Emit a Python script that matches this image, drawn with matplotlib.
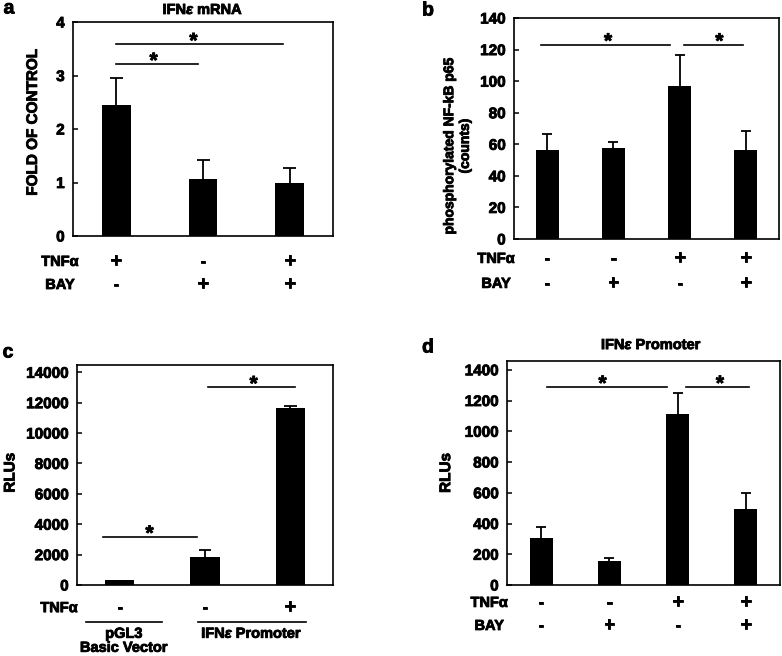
import matplotlib.pyplot as plt
import matplotlib.patheffects as pe
import numpy as np

plt.rcParams['font.family'] = ['Liberation Sans', 'DejaVu Sans']
plt.rcParams['font.weight'] = 'bold'
plt.rcParams['mathtext.fontset'] = 'custom'
plt.rcParams['mathtext.it'] = 'Liberation Sans:italic'
plt.rcParams['mathtext.rm'] = 'Liberation Sans:bold'

# panel a: IFNe mRNA
a_vals = [2.45, 1.07, 1.00]
a_err = [0.50, 0.35, 0.28]
a_tnf = ['+', '-', '+']
a_bay = ['-', '+', '+']

# panel b: phosphorylated NF-kB p65
b_vals = [56.5, 57.9, 97.2, 56.5]
b_err = [9.7, 3.6, 19.4, 12.2]
b_tnf = ['-', '-', '+', '+']
b_bay = ['-', '+', '-', '+']

# panel c: luciferase
c_vals = [300, 1843, 11672]
c_err = [0, 490, 130]
c_tnf = ['-', '-', '+']

# panel d: IFNe promoter
d_vals = [307, 156, 1114, 496]
d_err = [72, 21, 136, 100]
d_tnf = ['-', '-', '+', '+']
d_bay = ['-', '+', '-', '+']

W, H = 782, 656
fig = plt.figure(figsize=(W / 100, H / 100), dpi=100)
thick = [pe.withStroke(linewidth=0.6, foreground='black')]


def add_ax(l, t, r, b):
    return fig.add_axes([l / W, 1 - b / H, (r - l) / W, (b - t) / H])


def bars(ax, vals, err, width, ylim, yticks):
    x = np.arange(len(vals))
    vals = np.array(vals)
    tops = vals + np.array(err)
    ax.bar(x, vals, width=width, color='black')
    # upper error bars only, no cap on the bar top
    has = np.array(err) > 0
    ax.vlines(x[has], vals[has], tops[has], color='black', lw=1.3)
    ax.hlines(tops[has], x[has] - 0.075, x[has] + 0.075, color='black', lw=1.3)
    ax.set_xlim(-0.5, len(vals) - 0.5)
    ax.set_ylim(*ylim)
    ax.set_yticks(yticks)
    ax.set_xticks([])
    ax.tick_params(axis='y', direction='in', length=3.5, width=1.1, pad=6,
                   labelsize=11)
    for lab in ax.get_yticklabels():
        lab.set_fontweight('bold')
        lab.set_path_effects(thick)
    for s in ax.spines.values():
        s.set_linewidth(1.2)
    return x


def sig(ax, x0, x1, y, xs):
    ax.plot([x0, x1], [y, y], color='black', lw=1.2, clip_on=False)
    ax.annotate('*', (xs, y), xytext=(0, -2), textcoords='offset points',
                ha='center', va='baseline', fontsize=15, fontweight='bold',
                path_effects=thick)


def rows(ax, x, labels_list, ys, lx):
    tr = ax.get_xaxis_transform()
    for (name, labels), y in zip(labels_list, ys):
        ax.text(lx, y, name, transform=tr, ha='center', va='center',
                fontsize=10.5, fontweight='bold', path_effects=thick)
        for xi, s in zip(x, labels):
            ax.text(xi, y, s, transform=tr, ha='center', va='center',
                    fontsize=14 if s == '+' else 12, fontweight='bold',
                    path_effects=thick)


# ---- a
ax = add_ax(73, 22, 333, 236)
x = bars(ax, a_vals, a_err, 0.33, (0, 4), [0, 1, 2, 3, 4])
sig(ax, 0, 0.94, 3.21, 0.43)
sig(ax, 0, 1.92, 3.58, 0.89)
rows(ax, x, [('TNF\u03b1', a_tnf), ('BAY', a_bay)], [-0.121, -0.229], -0.65)
ax.text(-0.154, 0.53, 'FOLD OF CONTROL', transform=ax.transAxes, rotation=90,
        ha='center', va='center', fontsize=11, fontweight='bold',
        path_effects=thick)
ax.text(0.5, 1.056, 'IFN$\\mathit{\u03b5}$ mRNA', transform=ax.transAxes,
        ha='center', va='center', fontsize=10.5, fontweight='bold',
        path_effects=thick)

# ---- b
ax = add_ax(514, 18, 779, 239)
x = bars(ax, b_vals, b_err, 0.35, (0, 140), np.arange(0, 141, 20))
sig(ax, -0.1, 1.85, 123, 0.92)
sig(ax, 2.06, 2.95, 123, 2.6)
rows(ax, x, [('TNF\u03b1', b_tnf), ('BAY', b_bay)], [-0.09, -0.203], -0.77)
ax.text(-0.215, 0.42, 'phosphorylated NF-kB p65\n(counts)', transform=ax.transAxes,
        rotation=90, ha='center', va='center', fontsize=10, fontweight='bold',
        linespacing=1.15, path_effects=thick)

# ---- c
ax = add_ax(77, 365, 333, 585)
x = bars(ax, c_vals, c_err, 0.34, (0, 14480), np.arange(0, 14001, 2000))
sig(ax, -0.2, 0.91, 3160, 0.35)
sig(ax, 1.04, 2.05, 13000, 1.57)
rows(ax, x, [('TNF\u03b1', c_tnf)], [-0.105], -0.71)
tr = ax.get_xaxis_transform()
ax.plot([-0.40, 0.50], [-0.166, -0.166], transform=tr, color='black', lw=1.2,
        clip_on=False)
ax.plot([0.92, 2.18], [-0.166, -0.166], transform=tr, color='black', lw=1.2,
        clip_on=False)
ax.text(0.05, -0.19, 'pGL3\nBasic Vector', transform=tr, ha='center', va='top',
        fontsize=10.5, fontweight='bold', linespacing=1.0, path_effects=thick)
ax.text(1.55, -0.19, 'IFN$\\mathit{\u03b5}$ Promoter', transform=tr, ha='center',
        va='top', fontsize=10.5, fontweight='bold', path_effects=thick)
ax.text(-0.26, 0.51, 'RLUs', transform=ax.transAxes, rotation=90,
        ha='center', va='center', fontsize=11, fontweight='bold',
        path_effects=thick)

# ---- d
ax = add_ax(507, 361, 780, 585)
x = bars(ax, d_vals, d_err, 0.34, (0, 1457), np.arange(0, 1401, 200))
sig(ax, 0.09, 1.84, 1287, 0.9)
sig(ax, 2.13, 3.04, 1287, 2.62)
rows(ax, x, [('TNF\u03b1', d_tnf), ('BAY', d_bay)], [-0.08, -0.183], -0.76)
ax.text(-0.223, 0.5, 'RLUs', transform=ax.transAxes, rotation=90,
        ha='center', va='center', fontsize=11, fontweight='bold',
        path_effects=thick)
ax.text(0.53, 1.071, 'IFN$\\mathit{\u03b5}$ Promoter', transform=ax.transAxes,
        ha='center', va='center', fontsize=10.5, fontweight='bold',
        path_effects=thick)

# panel letters
for letter, px, py in [('a', 9, 9), ('b', 428, 11), ('c', 8, 353), ('d', 428, 348)]:
    fig.text(px / W, 1 - py / H, letter, ha='center', va='center',
             fontsize=14, fontweight='bold', path_effects=thick)

fig.savefig('out.png', dpi=100)
